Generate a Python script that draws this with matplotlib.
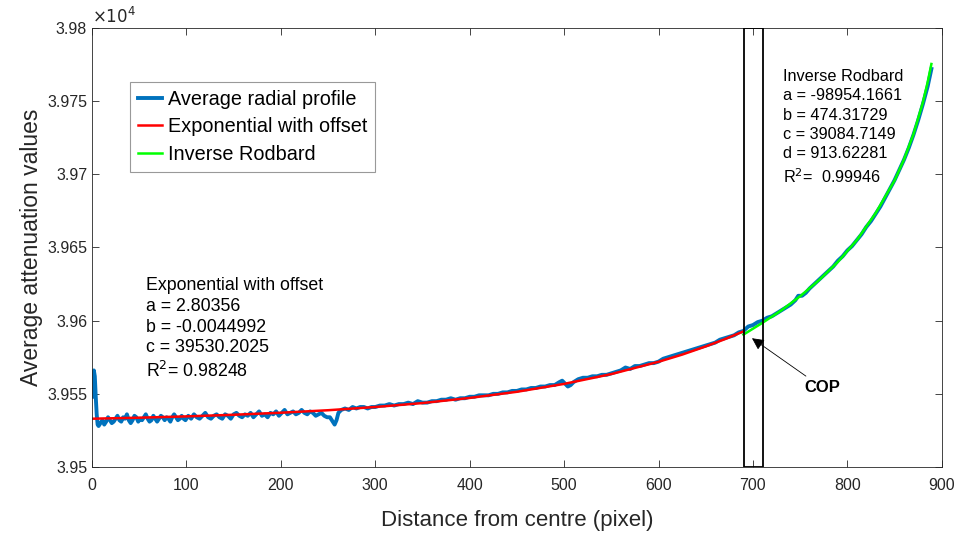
import matplotlib.pyplot as plt
from matplotlib.patches import Rectangle

plt.rcParams['font.family'] = ['Liberation Sans', 'DejaVu Sans']

# Average radial profile
profile_x = [0, 1, 2, 3, 4, 5, 6,
             7, 9, 11, 13, 15, 17, 19, 21, 23, 25, 27, 29, 31, 33, 35, 37, 39, 41, 43, 45,
             47, 49, 51, 53, 55, 57, 59, 61, 63, 65, 67, 69, 71, 73, 75, 77, 79, 81, 83, 85,
             87, 89, 91, 93, 95, 97, 99,
             102, 105, 108, 111, 114, 117, 120, 123, 126, 129, 132, 135, 138, 141, 144, 147, 150, 153, 156, 159,
             162, 165, 168, 171, 174, 177, 180, 183, 186, 189, 192, 195, 198, 201, 204, 207, 210, 213, 216, 219,
             222, 225, 228, 231, 234, 237, 240, 243, 246, 249,
             252, 255, 257, 259, 261, 264, 268, 272, 276, 280, 284, 288, 292, 296,
             300, 305, 310, 315, 320, 325, 330, 335, 340, 345, 350, 355, 360, 365, 370, 375, 380, 385, 390, 395,
             400, 405, 410, 415, 420, 425, 430, 435, 440, 445, 450, 455, 460, 465, 470, 475, 480, 485, 490, 495,
             498, 501, 504, 507, 510, 515, 520, 525, 530, 535, 540, 545, 550, 555, 560, 565, 570, 575, 580, 585,
             590, 595, 600, 605, 610, 615, 620, 625, 630, 635, 640, 645, 650, 655, 660, 665, 670, 675, 680, 685,
             690, 695, 700, 705, 710, 715, 720, 725, 730, 735, 740, 745, 748, 752, 756, 760, 765, 770, 775, 780,
             785, 790, 795, 800, 805, 810, 815, 820, 825, 830, 835, 840, 845, 850, 855, 860, 865, 870, 875, 880,
             885, 889]
profile_y = [39548, 39561, 39566, 39562, 39548, 39536, 39529,
             39528, 39530, 39532, 39529, 39531, 39534, 39532, 39530, 39531, 39533, 39535, 39532, 39531, 39534, 39533, 39536, 39532, 39530, 39532, 39535,
             39534, 39531, 39533, 39532, 39534, 39536, 39533, 39531, 39532, 39535, 39533, 39531, 39533, 39535, 39534, 39532, 39534, 39533, 39531, 39534,
             39536, 39534, 39532, 39533, 39535, 39533, 39532,
             39535, 39533, 39536, 39534, 39533, 39535, 39537, 39534, 39533, 39535, 39536, 39534, 39533, 39536, 39535, 39533, 39536, 39537, 39535, 39534,
             39536, 39535, 39537, 39534, 39536, 39538, 39535, 39536, 39534, 39537, 39536, 39538, 39535, 39537, 39539, 39536, 39537, 39538, 39536, 39537,
             39539, 39537, 39536, 39538, 39537, 39535, 39536, 39537, 39535, 39534,
             39534, 39531, 39529, 39532, 39537, 39539, 39540, 39539, 39541, 39540, 39541, 39541, 39540, 39541,
             39541, 39542, 39542, 39543, 39542, 39543, 39543, 39544, 39543, 39545, 39544, 39544, 39545, 39545, 39546, 39546, 39547, 39546, 39547, 39547,
             39548, 39548, 39549, 39549, 39549, 39550, 39550, 39551, 39551, 39552, 39552, 39553, 39553, 39554, 39554, 39555, 39555, 39556, 39556, 39558,
             39559, 39557, 39555, 39556, 39558, 39560, 39561, 39561, 39562, 39562, 39563, 39563, 39564, 39565, 39566, 39568, 39567, 39569, 39569, 39570,
             39571, 39571, 39572, 39574, 39575, 39576, 39577, 39578, 39579, 39580, 39581, 39582, 39583, 39584, 39585, 39587, 39588, 39589, 39590, 39592,
             39593, 39596, 39597, 39599, 39600, 39602, 39603, 39605, 39607, 39609, 39611, 39614, 39617, 39617, 39619, 39622, 39625, 39628, 39631, 39634,
             39637, 39641, 39644, 39648, 39651, 39655, 39659, 39664, 39668, 39673, 39678, 39684, 39690, 39696, 39703, 39710, 39718, 39727, 39737, 39748,
             39760, 39772]

# Exponential with offset fit
expfit_x = [0, 50, 100, 150, 200, 250, 300, 350, 400, 450, 500, 550, 600, 625, 650, 670, 690]
expfit_y = [39533.0, 39533.7, 39534.6, 39535.7, 39537.1, 39538.8, 39541.0, 39543.7, 39547.2,
            39551.4, 39556.8, 39563.5, 39571.9, 39576.8, 39582.4, 39587.3, 39592.7]

# Inverse Rodbard fit
rodbard_x = [690, 710, 730, 750, 770, 790, 810, 830, 850, 860, 870, 880, 885, 889]
rodbard_y = [39590.5, 39598.5, 39607.0, 39616.7, 39627.7, 39640.2, 39655.0, 39673.5,
             39695.8, 39710.2, 39727.4, 39749.2, 39762.8, 39775.4]

y_ticks = [39500, 39550, 39600, 39650, 39700, 39750, 39800]
y_tick_labels = ['3.95', '3.955', '3.96', '3.965', '3.97', '3.975', '3.98']
x_ticks = [0, 100, 200, 300, 400, 500, 600, 700, 800, 900]

fig = plt.figure(figsize=(9.61, 5.33), dpi=100)
ax = fig.add_axes([0.0957, 0.1238, 0.8843, 0.8237])

ax.plot(profile_x, profile_y, color='#0072BD', lw=2.8, label='Average radial profile')
ax.plot(expfit_x, expfit_y, color='#FF0000', lw=1.8, label='Exponential with offset')
ax.plot(rodbard_x, rodbard_y, color='#00FF00', lw=1.8, label='Inverse Rodbard')

ax.add_patch(Rectangle((691, 39500), 20, 300, fill=False, edgecolor='black', lw=1.3, zorder=5))

ax.set_xlim(0, 900)
ax.set_ylim(39500, 39800)
ax.set_xticks(x_ticks)
ax.set_yticks(y_ticks)
ax.set_yticklabels(y_tick_labels)
ax.tick_params(direction='in', length=5, width=0.6, top=True, right=True,
               labelsize=11.5, labelcolor='#262626', color='#262626')
ax.tick_params(axis='x', pad=8)
for s in ax.spines.values():
    s.set_color('#262626')
    s.set_linewidth(0.6)

ax.set_xlabel('Distance from centre (pixel)', fontsize=16, color='#262626', labelpad=12)
ax.set_ylabel('Average attenuation values', fontsize=16.5, color='#262626', labelpad=3)
ax.text(0.0, 1.005, r'$\times10^{4}$', transform=ax.transAxes, fontsize=12,
        color='#262626', ha='left', va='bottom')

leg = ax.legend(loc='upper left', bbox_to_anchor=(0.045, 0.877), fontsize=14.3,
                fancybox=False, framealpha=1, edgecolor='#999999', handlelength=1.2,
                handletextpad=0.3, borderaxespad=0, labelspacing=0.42, borderpad=0.4)
leg.get_frame().set_linewidth(0.8)

exp_text = 'Exponential with offset\na = 2.80356\nb = -0.0044992\nc = 39530.2025\nR$^2$= 0.98248'
ax.text(57, 39630, exp_text, fontsize=12.8, va='top', ha='left', linespacing=1.3)

rod_text = ('Inverse Rodbard\na = -98954.1661\nb = 474.31729\nc = 39084.7149\n'
            'd = 913.62281\nR$^2$=  0.99946')
ax.text(732, 39772, rod_text, fontsize=11.7, va='top', ha='left', linespacing=1.36)

ax.annotate('COP', xy=(699, 39588), xytext=(755, 39554), fontsize=12, fontweight='bold',
            ha='left', va='center',
            arrowprops=dict(arrowstyle='-|>', color='black', lw=0.6, mutation_scale=18,
                            shrinkA=2, shrinkB=0))

fig.savefig('out.png', dpi=100, facecolor='white')
